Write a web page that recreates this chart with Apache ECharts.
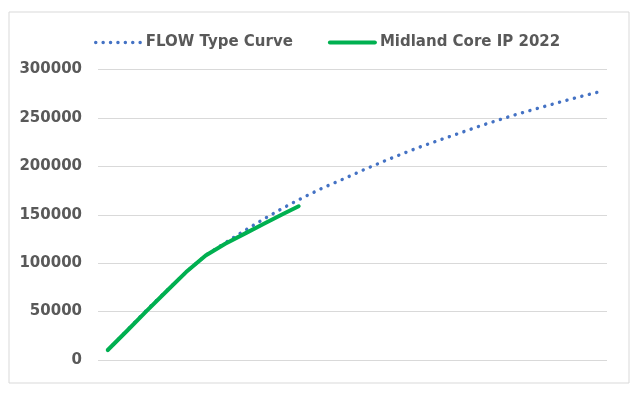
<!DOCTYPE html>
<html>
<head>
<meta charset="utf-8">
<script src="https://cdn.jsdelivr.net/npm/echarts@6/dist/echarts.min.js"></script>
<style>
html,body{margin:0;padding:0;background:#fff;}
#chart{width:635px;height:393px;}
</style>
</head>
<body>
<div id="chart"></div>
<script>
// Month index (x) for each series
var flowMonths = [1,2,3,4,5,6,7,8,9,10,11,12,13,14,15,16,17,18,19,20,21,22,23,24,25,26];
var flowValues = [10300,31000,52000,71500,90800,108200,121100,133800,146000,157500,168000,177900,186600,195800,204400,212600,220400,227500,234500,241600,248100,254400,260100,265800,271300,276400];
var midlandMonths = [1,2,3,4,5,6,7,8,9,10,10.75];
var midlandValues = [10300,30500,51000,71000,90800,108000,120000,130500,141000,151200,158800];
var yTicks = [0,50000,100000,150000,200000,250000,300000];
var seriesNames = ['FLOW Type Curve','Midland Core IP 2022'];

function pairs(xs, ys){ return xs.map(function(x,i){ return [x, ys[i]]; }); }

var chart = echarts.init(document.getElementById('chart'), null, {renderer:'canvas'});
var font = 'DejaVu Sans';
chart.setOption({
  animation:false,
  backgroundColor:'#ffffff',
  graphic:[{
    type:'rect', left:6.5, top:9.5, silent:true,
    shape:{x:0,y:0,width:620,height:371},
    style:{fill:'none', stroke:'#D9D9D9', lineWidth:1}
  }],
  legend:{
    left:89, top:30,
    itemWidth:45, itemHeight:14, itemGap:35,
    itemStyle:{opacity:0},
    textStyle:{fontFamily:font, fontWeight:'bold', fontSize:15, color:'#595959'},
    data:[
      {name:seriesNames[0], lineStyle:{width:3.4, type:[0.1,7.3], cap:'round'}},
      {name:seriesNames[1], lineStyle:{width:4, cap:'round'}}
    ]
  },
  grid:{left:98, right:28, top:69.5, bottom:33, containLabel:false},
  xAxis:{
    type:'value', min:0.5, max:26.5, show:false,
    splitLine:{show:false}
  },
  yAxis:{
    type:'value', min:yTicks[0], max:yTicks[yTicks.length-1], interval:yTicks[1]-yTicks[0],
    axisLine:{show:false}, axisTick:{show:false},
    axisLabel:{fontFamily:font, fontWeight:'bold', fontSize:15, color:'#595959', margin:16,
      formatter:function(v){ return String(v); }},
    splitLine:{lineStyle:{color:'#D9D9D9', width:1}}
  },
  series:[
    {
      name:seriesNames[0], type:'line', symbol:'none', smooth:false,
      data:pairs(flowMonths, flowValues),
      lineStyle:{color:'#4472C4', width:3.4, type:[0.1,7.6], cap:'round'},
      itemStyle:{color:'#4472C4'}
    },
    {
      name:seriesNames[1], type:'line', symbol:'none', smooth:false,
      data:pairs(midlandMonths, midlandValues),
      lineStyle:{color:'#00B050', width:4, cap:'round', join:'round'},
      itemStyle:{color:'#00B050'}
    }
  ]
});
</script>
</body>
</html>
